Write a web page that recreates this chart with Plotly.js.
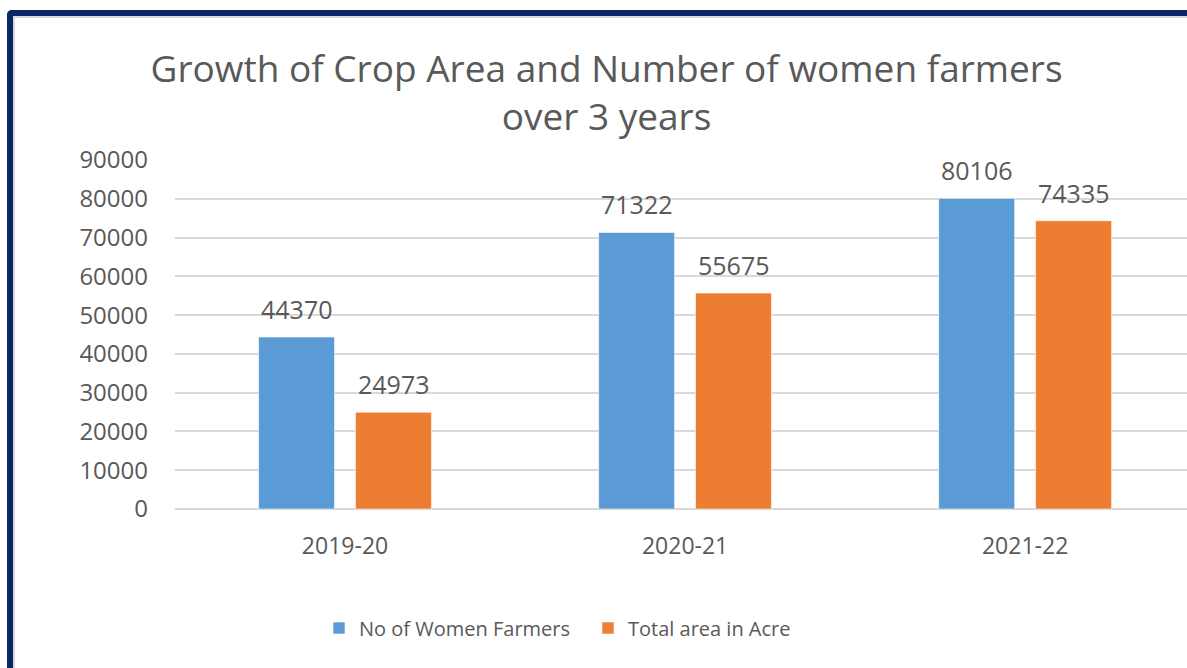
<!DOCTYPE html>
<html>
<head>
<meta charset="utf-8">
<script src="https://cdn.plot.ly/plotly-3.0.1.min.js"></script>
<style>
  html, body { margin: 0; padding: 0; background: #ffffff; overflow: hidden; }
  #wrap { position: relative; width: 1187px; height: 668px; }
  #chart { position: absolute; left: 0; top: 0; width: 1187px; height: 668px; }
  #frame {
    position: absolute; left: 7px; top: 10px; width: 1200px; height: 700px;
    border-left: 6px solid #0b2767; border-top: 6px solid #0b2767;
    border-top-left-radius: 5px;
    box-shadow: inset 2px 2px 0 #d9d9d9;
    pointer-events: none;
  }
</style>
</head>
<body>
<div id="wrap">
  <div id="chart"></div>
  <div id="frame"></div>
</div>
<script>
const categories = ["2019-20", "2020-21", "2021-22"];
const womenFarmers = [44370, 71322, 80106];
const areaAcre = [24973, 55675, 74335];
const seriesNames = ["No of Women Farmers", "Total area in Acre"];
const yTicks = [0, 10000, 20000, 30000, 40000, 50000, 60000, 70000, 80000, 90000];

const textColor = "#595959";
const fontFam = "'Open Sans', 'Noto Sans', sans-serif";
const bargap = 0.43;
const bargroupgap = 0.216;
const halfOffset = (1 - bargap) / 4;

const traces = [
  { type: "bar", name: seriesNames[0], x: categories, y: womenFarmers,
    marker: { color: "#5b9bd5", line: { color: "rgba(255,255,255,0.6)", width: 1 } }, hoverinfo: "skip" },
  { type: "bar", name: seriesNames[1], x: categories, y: areaAcre,
    marker: { color: "#ed7d31", line: { color: "rgba(255,255,255,0.6)", width: 1 } }, hoverinfo: "skip" }
];

const annotations = [];
[womenFarmers, areaAcre].forEach((vals, s) => {
  vals.forEach((v, i) => {
    annotations.push({
      x: i + (s === 0 ? -halfOffset : halfOffset), y: v, xref: "x", yref: "y",
      text: String(v), showarrow: false, yanchor: "bottom", yshift: 9,
      font: { family: fontFam, size: 25, color: textColor }
    });
  });
});

const layout = {
  width: 1187, height: 668,
  paper_bgcolor: "rgba(0,0,0,0)", plot_bgcolor: "rgba(0,0,0,0)",
  margin: { l: 175, r: 0, t: 160, b: 159 },
  barmode: "group", bargap: bargap, bargroupgap: bargroupgap,
  title: {
    text: "Growth of Crop Area and Number of women farmers<br>over 3 years",
    x: 0.511, xref: "container", xanchor: "center",
    y: 1 - 82 / 668, yref: "container", yanchor: "middle",
    font: { family: fontFam, size: 37, color: textColor }
  },
  xaxis: {
    type: "category", range: [-0.5, 2.476],
    showgrid: false, showline: false, zeroline: false, ticks: "",
    ticklabelstandoff: 21,
    tickfont: { family: fontFam, size: 23, color: textColor }
  },
  yaxis: {
    range: [0, 90000], tickvals: yTicks, ticktext: yTicks.map(String),
    showgrid: true, gridcolor: "#d9d9d9", gridwidth: 2,
    zeroline: true, zerolinecolor: "#d9d9d9", zerolinewidth: 2,
    showline: false, ticks: "", ticklabelstandoff: 26,
    tickfont: { family: fontFam, size: 24, color: textColor }
  },
  showlegend: true,
  legend: {
    orientation: "h", xref: "container", yref: "container",
    x: 319 / 1187, xanchor: "left", y: 1 - 628 / 668, yanchor: "middle",
    font: { family: fontFam, size: 20, color: textColor },
    itemwidth: 30, entrywidth: 224, entrywidthmode: "pixels", traceorder: "normal"
  },
  annotations: annotations
};

Plotly.newPlot("chart", traces, layout, { displayModeBar: false, staticPlot: true });
</script>
</body>
</html>
